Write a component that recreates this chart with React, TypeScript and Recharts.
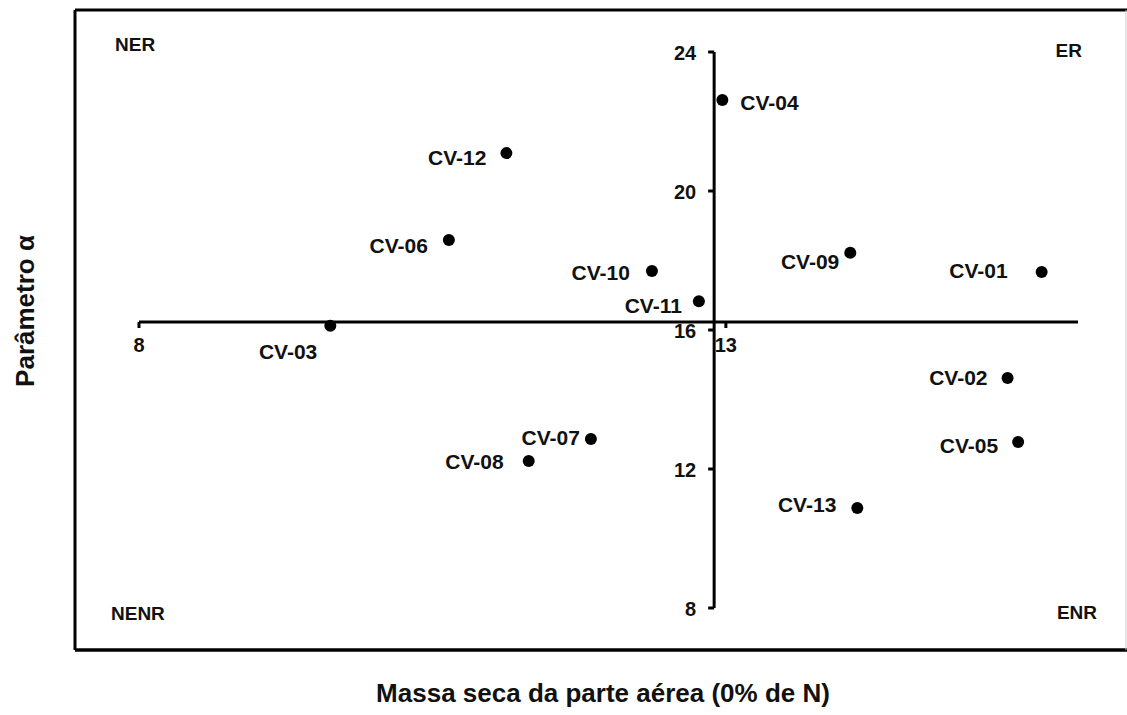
import React from "react";
import { ScatterChart, Scatter, XAxis, YAxis, ReferenceLine, ReferenceDot } from "recharts";

// cultivars
const NAMES = ["CV-01", "CV-02", "CV-03", "CV-04", "CV-05", "CV-06", "CV-07", "CV-08", "CV-09", "CV-10", "CV-11", "CV-12", "CV-13"];
const MASSA = [15.69, 15.4, 9.63, 12.97, 15.49, 10.64, 11.85, 11.32, 14.06, 12.37, 12.77, 11.13, 14.12];
const ALFA = [17.67, 14.62, 16.12, 22.62, 12.78, 18.59, 12.86, 12.23, 18.22, 17.7, 16.83, 21.09, 10.88];

const X_TICKS = [8, 13];
const Y_TICKS = [8, 12, 16, 20, 24];
const X_DOMAIN: [number, number] = [8, 16];
const Y_DOMAIN: [number, number] = [8, 24];
// where the two axes cross
const X_CROSS = 12.9;
const Y_CROSS = 16.23;

const QUADRANTS = ["NER", "ER", "NENR", "ENR"];

// label placement next to each dot (px)
const LABEL_OFFSETS: Record<string, [number, number, "start" | "end"]> = {
  "CV-01": [-34, -1, "end"],
  "CV-02": [-20, 0, "end"],
  "CV-03": [-13, 26, "end"],
  "CV-04": [18, 3, "start"],
  "CV-05": [-20, 4, "end"],
  "CV-06": [-21, 6, "end"],
  "CV-07": [-11, -2, "end"],
  "CV-08": [-25, 0, "end"],
  "CV-09": [-11, 9, "end"],
  "CV-10": [-22, 2, "end"],
  "CV-11": [-17, 4, "end"],
  "CV-12": [-20, 4, "end"],
  "CV-13": [-21, -3, "end"],
};

const FONT = '"Liberation Sans", Arial, sans-serif';

const data = NAMES.map((name, i) => ({ name, x: MASSA[i], y: ALFA[i] }));

const CultivarDot = (props: any) => {
  const { cx, cy, payload } = props;
  const [dx, dy, anchor] = LABEL_OFFSETS[payload.name] || [-20, 0, "end"];
  return (
    <g>
      <circle cx={cx} cy={cy} r={6} fill="#000" />
      <text
        x={cx + dx}
        y={cy + dy}
        textAnchor={anchor}
        dominantBaseline="central"
        fontFamily={FONT}
        fontWeight="bold"
        fontSize={21}
        fill="#111"
      >
        {payload.name}
      </text>
    </g>
  );
};

const XTick = (label: number) => (props: any) => {
  const { cx, cy } = props;
  return (
    <g>
      <line x1={cx} y1={cy} x2={cx} y2={cy + 6} stroke="#000" strokeWidth={3} />
      <text x={cx} y={cy + 23} textAnchor="middle" dominantBaseline="central" fontFamily={FONT} fontWeight="bold" fontSize={20} fill="#111">
        {label}
      </text>
    </g>
  );
};

const YTick = (label: number) => (props: any) => {
  const { cx, cy } = props;
  return (
    <g>
      <line x1={cx} y1={cy} x2={cx - 6} y2={cy} stroke="#000" strokeWidth={3} />
      <text x={cx - 18} y={cy + 1} textAnchor="end" dominantBaseline="central" fontFamily={FONT} fontWeight="bold" fontSize={20} fill="#111">
        {label}
      </text>
    </g>
  );
};

export default function App() {
  const qPos = [
    { x: 115, y: 44, anchor: "start" },
    { x: 1082, y: 50, anchor: "end" },
    { x: 111, y: 613, anchor: "start" },
    { x: 1097, y: 612, anchor: "end" },
  ];
  return (
    <div style={{ position: "fixed", left: 0, top: 0, width: 1127, height: 715, background: "#fff" }}>
      <svg width={1127} height={715} style={{ position: "absolute", left: 0, top: 0 }}>
        <line x1={75} y1={10} x2={75} y2={650} stroke="#000" strokeWidth={3} />
        <line x1={75} y1={10} x2={1127} y2={10} stroke="#000" strokeWidth={3} />
        <line x1={75} y1={650} x2={1127} y2={650} stroke="#000" strokeWidth={3.5} />
        <line x1={1126} y1={10} x2={1126} y2={650} stroke="#ccc" strokeWidth={1} />
        {QUADRANTS.map((q, i) => (
          <text
            key={q}
            x={qPos[i].x}
            y={qPos[i].y}
            textAnchor={qPos[i].anchor as any}
            dominantBaseline="central"
            fontFamily={FONT}
            fontWeight="bold"
            fontSize={19}
            fill="#111"
          >
            {q}
          </text>
        ))}
        <text x={603} y={693} textAnchor="middle" dominantBaseline="central" fontFamily={FONT} fontWeight="bold" fontSize={26} fill="#111">
          Massa seca da parte aérea (0% de N)
        </text>
        <text
          x={25}
          y={311}
          transform="rotate(-90 25 311)"
          textAnchor="middle"
          dominantBaseline="central"
          fontFamily={FONT}
          fontWeight="bold"
          fontSize={26}
          fill="#111"
        >
          Parâmetro α
        </text>
      </svg>
      <div style={{ position: "absolute", left: 0, top: 0 }}>
        <ScatterChart width={1127} height={715} margin={{ top: 52, right: 49, bottom: 107, left: 139 }}>
          <XAxis type="number" dataKey="x" domain={X_DOMAIN} hide allowDataOverflow />
          <YAxis type="number" dataKey="y" domain={Y_DOMAIN} hide allowDataOverflow />
          <ReferenceLine
            segment={[
              { x: X_DOMAIN[0], y: Y_CROSS },
              { x: X_DOMAIN[1], y: Y_CROSS },
            ]}
            stroke="#000"
            strokeWidth={3}
            ifOverflow="visible"
          />
          <ReferenceLine
            segment={[
              { x: X_CROSS, y: Y_DOMAIN[0] },
              { x: X_CROSS, y: Y_DOMAIN[1] },
            ]}
            stroke="#000"
            strokeWidth={3}
            ifOverflow="visible"
          />
          {X_TICKS.map((t) => (
            <ReferenceDot key={`xt-${t}`} x={t} y={Y_CROSS} r={0} ifOverflow="visible" shape={XTick(t)} />
          ))}
          {Y_TICKS.map((t) => (
            <ReferenceDot key={`yt-${t}`} x={X_CROSS} y={t} r={0} ifOverflow="visible" shape={YTick(t)} />
          ))}
          <Scatter data={data} shape={CultivarDot} isAnimationActive={false} />
        </ScatterChart>
      </div>
    </div>
  );
}
